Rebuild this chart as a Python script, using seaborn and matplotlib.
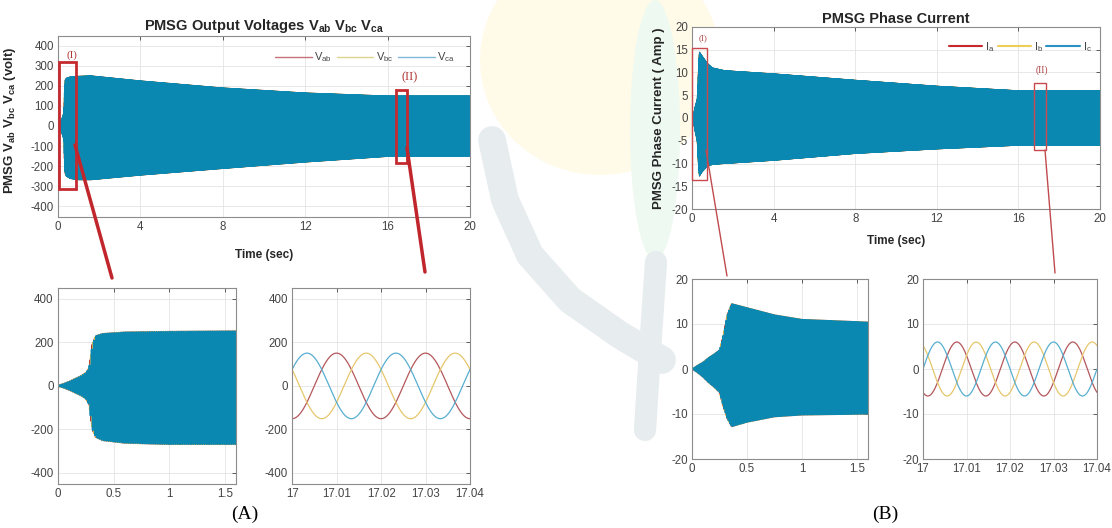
import numpy as np
import matplotlib
matplotlib.use("Agg")
import matplotlib.pyplot as plt
import seaborn as sns
from matplotlib.patches import Rectangle, Ellipse

sns.set_theme(style="white")
plt.rcParams['font.family'] = ['Liberation Sans', 'DejaVu Sans']
plt.rcParams['mathtext.fontset'] = 'custom'
plt.rcParams['mathtext.rm'] = 'Liberation Sans'
plt.rcParams['mathtext.it'] = 'Liberation Sans'
plt.rcParams['mathtext.bf'] = 'Liberation Sans:bold'
plt.rcParams['axes.unicode_minus'] = False

# ---- data ----
# voltage envelope (upper / lower, volt) over time (sec), 50 Hz
volt_env_t = [0, 0.05, 0.10, 0.15, 0.20, 0.25, 0.28, 0.31, 0.34, 0.40, 0.6, 1.0, 1.6, 4, 8, 12, 16, 20]
volt_env_hi = [0, 8, 18, 30, 42, 58, 80, 190, 228, 238, 245, 248, 250, 225, 190, 165, 150, 150]
volt_env_lo = [0, -8, -18, -30, -42, -58, -85, -200, -235, -250, -262, -268, -268, -245, -212, -180, -152, -150]
volt_freq = 50

# current envelope (upper / lower, Amp) over time (sec), 75 Hz
curr_env_t = [0, 0.05, 0.10, 0.15, 0.20, 0.25, 0.28, 0.32, 0.36, 0.5, 0.75, 1.0, 1.6, 4, 8, 12, 16, 20]
curr_env_hi = [0, 0.8, 1.5, 2.5, 3.3, 4.2, 7, 12, 14.5, 13.6, 12, 11, 10.4, 9.7, 8.3, 7.0, 6.0, 6.0]
curr_env_lo = [0, -0.8, -1.8, -3, -4, -5.2, -8, -11, -12.8, -11.8, -10.6, -10.2, -10, -9.3, -7.8, -6.8, -6.0, -6.0]
curr_freq = 75

volt_yticks = [-400, -300, -200, -100, 0, 100, 200, 300, 400]
volt_inset_yticks = [-400, -200, 0, 200, 400]
curr_yticks = [-20, -15, -10, -5, 0, 5, 10, 15, 20]
curr_inset_yticks = [-20, -10, 0, 10, 20]
main_xticks = [0, 4, 8, 12, 16, 20]
start_xticks = [0, 0.5, 1, 1.5]
start_xlabels = ['0', '0.5', '1', '1.5']
zoom_xticks = [17, 17.01, 17.02, 17.03, 17.04]
zoom_xlabels = ['17', '17.01', '17.02', '17.03', '17.04']

phase_names_v = [r'$\mathrm{V_{ab}}$', r'$\mathrm{V_{bc}}$', r'$\mathrm{V_{ca}}$']
phase_names_i = [r'$\mathrm{I_a}$', r'$\mathrm{I_b}$', r'$\mathrm{I_c}$']

# colours
band_red = '#b2383c'
band_yel = '#d9b64a'
band_blue = '#0b88b2'
thin_red = '#b4575b'
thin_yel = '#e6c66c'
thin_blue = '#58aed0'
box_red = '#c42a30'


def three_phase_volt(t):
    hi = np.interp(t, volt_env_t, volt_env_hi)
    lo = np.interp(t, volt_env_t, volt_env_lo)
    mid, amp = (hi + lo) / 2, (hi - lo) / 2
    th = 2 * np.pi * volt_freq * t
    return (mid - amp * np.cos(th),
            mid - amp * np.cos(th - 2 * np.pi / 3),
            mid - amp * np.cos(th + 2 * np.pi / 3))


def three_phase_curr(t):
    hi = np.interp(t, curr_env_t, curr_env_hi)
    lo = np.interp(t, curr_env_t, curr_env_lo)
    mid, amp = (hi + lo) / 2, (hi - lo) / 2
    th = 2 * np.pi * curr_freq * t
    return (mid + amp * np.sin(th - 2 * np.pi / 3),
            mid + amp * np.sin(th + 2 * np.pi / 3),
            mid + amp * np.sin(th))


W, H = 1112, 528
fig = plt.figure(figsize=(W / 100, H / 100), dpi=100)


def px_axes(x0, y0, x1, y1, z=1):
    return fig.add_axes([x0 / W, 1 - y1 / H, (x1 - x0) / W, (y1 - y0) / H], zorder=z)


def matlab_style(ax):
    ax.grid(True, color='#e4e4e4', lw=0.6)
    ax.tick_params(direction='in', length=3, width=0.6, top=True, right=True,
                   labelsize=8.3, colors='#444444', pad=3)
    for s in ax.spines.values():
        s.set_color('#8c8c8c')
        s.set_linewidth(0.8)


# background watermark (faint)
bg = px_axes(0, 0, W, H, z=-5)
bg.set_xlim(0, W)
bg.set_ylim(H, 0)
bg.axis('off')
bg.add_patch(Ellipse((600, 60), 240, 230, color='#fffbe8', lw=0))
bg.add_patch(Ellipse((655, 130), 50, 260, color='#eef9f1', lw=0))
bg.plot([492, 505, 530, 570, 620, 662], [140, 200, 255, 300, 335, 360], color='#e7ecef', lw=20,
        solid_capstyle='round')
bg.plot([656, 650, 645], [262, 350, 430], color='#e7ecef', lw=16, solid_capstyle='round')

# ---------------- (A) voltages ----------------
t_all = np.linspace(0, 20, 100001)
va, vb, vc = three_phase_volt(t_all)

axA = px_axes(58, 35.5, 470, 216.5)
axA.plot(t_all, va, color=band_red, lw=0.5)
axA.plot(t_all, vb, color=band_yel, lw=0.5)
axA.plot(t_all, vc, color=band_blue, lw=0.5)
axA.set_xlim(0, 20)
axA.set_ylim(-450, 450)
axA.set_xticks(main_xticks)
axA.set_yticks(volt_yticks)
matlab_style(axA)
axA.set_title(r'PMSG Output Voltages $\mathbf{V_{ab}}$ $\mathbf{V_{bc}}$ $\mathbf{V_{ca}}$',
              fontsize=10.5, fontweight='bold', pad=4)
axA.set_xlabel('Time (sec)', fontsize=8.5, fontweight='bold')
axA.xaxis.set_label_coords(0.5, -0.18)
axA.set_ylabel(r'PMSG $\mathbf{V_{ab}}$ $\mathbf{V_{bc}}$ $\mathbf{V_{ca}}$ (volt)', fontsize=9.5,
               fontweight='bold')
axA.yaxis.set_label_coords(-0.097, 0.53)
legA = [plt.Line2D([], [], color=c, lw=1.0) for c in ['#c87276', '#ddd58e', '#7ebad6']]
axA.legend(legA, phase_names_v, loc='center right', bbox_to_anchor=(0.975, 0.878), ncol=3,
           frameon=False, fontsize=8, handlelength=3.3, handletextpad=0.25, columnspacing=0.4,
           labelcolor='#444444', borderaxespad=0)
axA.add_patch(Rectangle((0.05, -312), 0.82, 631, fill=False, ec=box_red, lw=2.0, zorder=5))
axA.add_patch(Rectangle((16.39, -183), 0.54, 363, fill=False, ec=box_red, lw=2.0, zorder=5))
axA.text(0.68, 354, '(I)', family='Liberation Serif', fontsize=8, color='#b03535', ha='center',
         va='center')
axA.text(17.09, 243, '(II)', family='Liberation Serif', fontsize=9, color='#b03535', ha='center',
         va='center')

# inset: start-up
m = t_all <= 1.7
axA1 = px_axes(57.9, 287.9, 236.4, 483.6)
axA1.plot(t_all[m], va[m], color=band_red, lw=1.5)
axA1.plot(t_all[m], vb[m], color=band_yel, lw=1.5)
axA1.plot(t_all[m], vc[m], color=band_blue, lw=1.5)
axA1.set_xlim(0, 1.6)
axA1.set_ylim(-450, 450)
axA1.set_xticks(start_xticks)
axA1.set_xticklabels(start_xlabels)
axA1.set_yticks(volt_inset_yticks)
matlab_style(axA1)

# inset: steady state
t_z = np.linspace(17, 17.04, 1201)
za, zb, zc = three_phase_volt(t_z)
axA2 = px_axes(292.1, 287.9, 470, 483.6)
axA2.plot(t_z, za, color=thin_red, lw=0.9)
axA2.plot(t_z, zb, color=thin_yel, lw=0.9)
axA2.plot(t_z, zc, color=thin_blue, lw=0.9)
axA2.set_xlim(17, 17.04)
axA2.set_ylim(-450, 450)
axA2.set_xticks(zoom_xticks)
axA2.set_xticklabels(zoom_xlabels)
axA2.set_yticks(volt_inset_yticks)
matlab_style(axA2)

# ---------------- (B) currents ----------------
ia, ib, ic = three_phase_curr(t_all)

axB = px_axes(692, 26.7, 1100, 209.3)
axB.plot(t_all, ia, color=band_red, lw=0.5)
axB.plot(t_all, ib, color=band_yel, lw=0.5)
axB.plot(t_all, ic, color=band_blue, lw=0.5)
axB.set_xlim(0, 20)
axB.set_ylim(-20, 20)
axB.set_xticks(main_xticks)
axB.set_yticks(curr_yticks)
matlab_style(axB)
axB.set_title('PMSG Phase Current', fontsize=10.5, fontweight='bold', pad=3)
axB.set_xlabel('Time (sec)', fontsize=8.5, fontweight='bold')
axB.xaxis.set_label_coords(0.5, -0.143)
axB.set_ylabel('PMSG Phase Current ( Amp )', fontsize=9.5, fontweight='bold')
axB.yaxis.set_label_coords(-0.066, 0.5)
legB = [plt.Line2D([], [], color=c, lw=1.5) for c in ['#c8282c', '#ecce58', '#2a92c2']]
axB.legend(legB, phase_names_i, loc='center right', bbox_to_anchor=(0.99, 0.89), ncol=3,
           frameon=False, fontsize=8, handlelength=3.0, handletextpad=0.25, columnspacing=0.3,
           labelcolor='#444444', borderaxespad=0)
axB.add_patch(Rectangle((0.0, -13.6), 0.72, 28.9, fill=False, ec='#c84a4e', lw=1.0, zorder=5,
                        clip_on=False))
axB.add_patch(Rectangle((16.76, -7.0), 0.59, 14.7, fill=False, ec='#c84a4e', lw=1.0, zorder=5))
axB.text(0.54, 17.5, '(I)', family='Liberation Serif', fontsize=6.5, color='#b04545', ha='center',
         va='center')
axB.text(17.16, 10.5, '(II)', family='Liberation Serif', fontsize=7, color='#b04545', ha='center',
         va='center')

axB1 = px_axes(692, 279, 868, 459)
axB1.plot(t_all[m], ia[m], color=band_red, lw=1.0)
axB1.plot(t_all[m], ib[m], color=band_yel, lw=1.0)
axB1.plot(t_all[m], ic[m], color=band_blue, lw=1.0)
axB1.set_xlim(0, 1.6)
axB1.set_ylim(-20, 20)
axB1.set_xticks(start_xticks)
axB1.set_xticklabels(start_xlabels)
axB1.set_yticks(curr_inset_yticks)
matlab_style(axB1)

ja, jb, jc = three_phase_curr(t_z)
axB2 = px_axes(923, 279, 1097, 459)
axB2.plot(t_z, ja, color=thin_red, lw=0.9)
axB2.plot(t_z, jb, color=thin_yel, lw=0.9)
axB2.plot(t_z, jc, color=thin_blue, lw=0.9)
axB2.set_xlim(17, 17.04)
axB2.set_ylim(-20, 20)
axB2.set_xticks(zoom_xticks)
axB2.set_xticklabels(zoom_xlabels)
axB2.set_yticks(curr_inset_yticks)
matlab_style(axB2)

# connector lines and panel letters, drawn in pixel space on top
ov = px_axes(0, 0, W, H, z=10)
ov.set_xlim(0, W)
ov.set_ylim(H, 0)
ov.axis('off')
ov.patch.set_alpha(0)
ov.plot([75, 112], [145, 278], color='#c0262c', lw=2.5)
ov.plot([407, 425], [148, 272], color='#c0262c', lw=2.5)
ov.plot([706, 727], [150, 276], color='#c04a4e', lw=1.0)
ov.plot([1045, 1055], [150, 273], color='#c04a4e', lw=1.0)
ov.text(245, 514, '(A)', family='Liberation Serif', fontsize=14, ha='center', va='center',
        color='black')
ov.text(885, 514, '(B)', family='Liberation Serif', fontsize=14, ha='center', va='center',
        color='black')

fig.savefig('out.png', dpi=100)
